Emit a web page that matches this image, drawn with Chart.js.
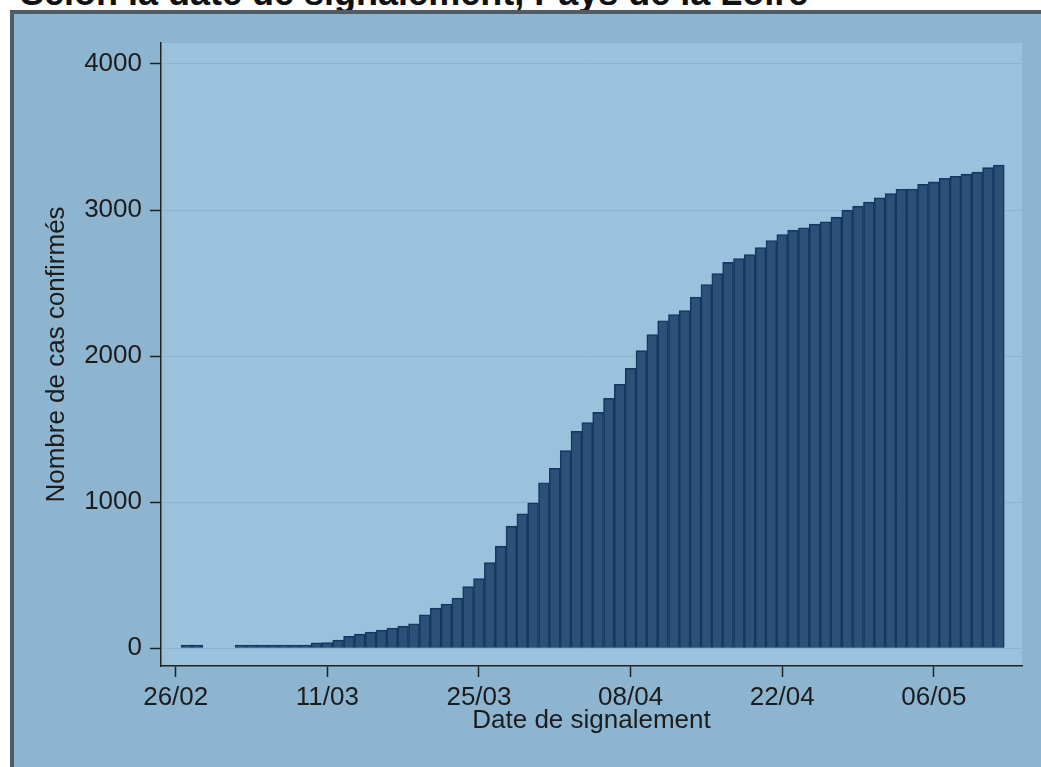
<!DOCTYPE html>
<html>
<head>
<meta charset="utf-8">
<script src="https://cdn.jsdelivr.net/npm/chart.js@4"></script>
<style>
body{margin:0;background:#fff;width:1041px;height:767px;overflow:hidden;position:relative;font-family:'Liberation Sans',Arial,sans-serif;}
#titre{position:absolute;left:20px;top:-25px;font-size:36px;line-height:36px;font-weight:bold;color:#111;white-space:nowrap;}
#cadre{position:absolute;left:10px;top:10px;width:1100px;height:800px;background:#8db5cf;border-left:4px solid #4f5c66;border-top:4px solid #4f5c66;}
#wrap{position:absolute;left:0;top:0;width:1041px;height:767px;}
</style>
</head>
<body>
<div id="titre">Selon la date de signalement, Pays de la Loire</div>
<div id="cadre"></div>
<div id="wrap"><canvas id="myChart"></canvas></div>
<script>
// dates de signalement (2020)
var dates = ["27/02","28/02",
    "03/03","04/03","05/03","06/03","07/03","08/03","09/03","10/03","11/03","12/03",
    "13/03","14/03","15/03","16/03","17/03","18/03","19/03","20/03","21/03","22/03",
    "23/03","24/03","25/03","26/03","27/03","28/03","29/03","30/03","31/03",
    "01/04","02/04","03/04","04/04","05/04","06/04","07/04","08/04","09/04","10/04",
    "11/04","12/04","13/04","14/04","15/04","16/04","17/04","18/04","19/04","20/04",
    "21/04","22/04","23/04","24/04","25/04","26/04","27/04","28/04","29/04","30/04",
    "01/05","02/05","03/05","04/05","05/05","06/05","07/05","08/05","09/05","10/05",
    "11/05","12/05"];
// nombre de cas confirmés (cumul)
var cases = [22,22,
    22,22,22,22,22,22,22,38,40,57,
    82,97,111,125,138,152,167,230,275,303,
    344,422,478,586,699,836,921,996,1133,
    1232,1353,1485,1545,1615,1711,1807,1916,2037,2148,
    2242,2285,2312,2404,2490,2565,2641,2668,2695,2743,
    2791,2832,2862,2878,2903,2919,2951,2999,3026,3055,
    3083,3112,3142,3144,3176,3192,3217,3231,3245,3260,
    3290,3308];
var xTickLabels = ["26/02","11/03","25/03","08/04","22/04","06/05"];
var yTicks = [0,1000,2000,3000,4000];

function dayOf(s){
    var p = s.split("/");
    return (Date.UTC(2020, +p[1]-1, +p[0]) - Date.UTC(2020,1,26))/86400000;
}

var points = dates.map(function(d,i){ return {x: dayOf(d), y: cases[i]}; });

var fondPlot = {
    id: "fondPlot",
    beforeDraw: function(chart){
        var a = chart.chartArea, c = chart.ctx;
        c.save();
        c.fillStyle = "#9ac2dc";
        c.fillRect(a.left, a.top, a.right-a.left, a.bottom-a.top);
        c.restore();
    }
};

Chart.defaults.font.family = "'Liberation Sans', Arial, sans-serif";
Chart.defaults.color = "#1c1c1c";

var ctx = document.getElementById("myChart");
var myChart = new Chart(ctx, {
    type: "bar",
    data: {
        datasets: [{
            data: points,
            backgroundColor: "#2d5079",
            borderColor: "#163760",
            borderWidth: 1.6,
            barPercentage: 1,
            categoryPercentage: 1
        }]
    },
    options: {
        responsive: true,
        maintainAspectRatio: false,
        animation: false,
        layout: {padding: {left: 0, top: 43, right: 19, bottom: 0}},
        plugins: {legend: {display: false}, tooltip: {enabled: false}},
        scales: {
            x: {
                type: "linear",
                offset: false,
                min: -1.357,
                max: 78.14,
                afterFit: function(s){ s.height = 101; },
                afterBuildTicks: function(s){
                    s.ticks = xTickLabels.map(function(l){ return {value: dayOf(l)}; });
                },
                ticks: {
                    autoSkip: false, maxRotation: 0, padding: 5,
                    font: {size: 26},
                    callback: function(v, i){ return xTickLabels[i]; }
                },
                grid: {offset: false, drawOnChartArea: false, drawTicks: true, tickLength: 11, tickColor: "#222", tickWidth: 1.5},
                border: {display: true, color: "#222", width: 1.5},
                title: {display: true, text: "Date de signalement", font: {size: 26}, padding: {top: 0, bottom: 31}}
            },
            y: {
                min: -121,
                max: 4143,
                afterFit: function(s){ s.width = 161; },
                afterBuildTicks: function(s){
                    s.ticks = yTicks.map(function(v){ return {value: v}; });
                },
                ticks: {autoSkip: false, padding: 8, font: {size: 26},
                    callback: function(v){ return String(v); }},
                grid: {color: "#8cb4ce", lineWidth: 1, drawTicks: true, tickLength: 11, tickColor: "#222", tickWidth: 1.5},
                border: {display: true, color: "#222", width: 1.5},
                title: {display: true, text: "Nombre de cas confirmés", font: {size: 26}, padding: {top: 41, bottom: 0}}
            }
        }
    },
    plugins: [fondPlot]
});
</script>
</body>
</html>
